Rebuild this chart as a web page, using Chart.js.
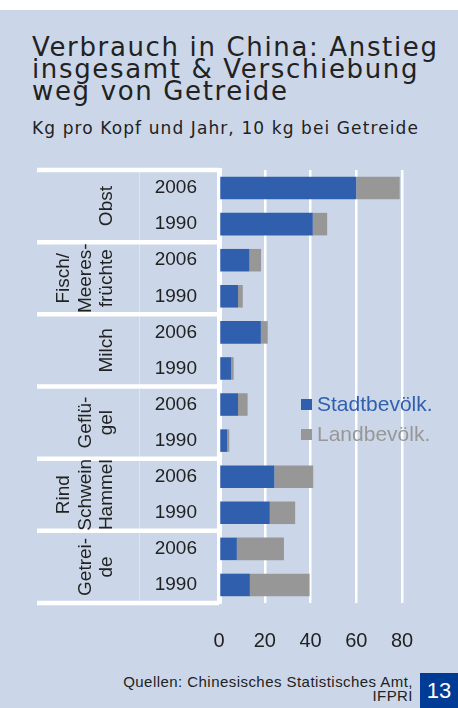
<!DOCTYPE html>
<html lang="de">
<head>
<meta charset="utf-8">
<title>Verbrauch in China</title>
<script src="https://cdn.jsdelivr.net/npm/chart.js@4"></script>
<style>
  html, body {
    margin: 0;
    padding: 0;
    background: #ffffff;
    width: 458px;
    height: 708px;
    overflow: hidden;
    font-family: "Liberation Sans", Arial, sans-serif;
  }
  #panel {
    position: absolute;
    left: 0;
    top: 10px;
    width: 458px;
    height: 698px;
    background: #cbd7e9;
  }
  #title {
    position: absolute;
    left: 32px;
    top: 36px;
    font-family: "DejaVu Sans", sans-serif;
    font-size: 26px;
    line-height: 22px;
    letter-spacing: 1.65px;
    color: #222222;
    white-space: nowrap;
  }
  #subtitle {
    position: absolute;
    left: 32px;
    top: 118px;
    font-family: "DejaVu Sans", sans-serif;
    font-size: 17px;
    line-height: 20px;
    letter-spacing: 1.1px;
    color: #222222;
    white-space: nowrap;
  }
  #chartBox {
    position: absolute;
    left: 0;
    top: 150px;
    width: 458px;
    height: 520px;
  }
  #legend {
    position: absolute;
    left: 301px;
    top: 389px;
    font-size: 21px;
    line-height: 30px;
  }
  #legend div {
    display: flex;
    align-items: center;
    white-space: nowrap;
  }
  #legend span.box {
    display: inline-block;
    width: 11px;
    height: 11px;
    margin-right: 5px;
  }
  #source {
    position: absolute;
    right: 45px;
    top: 675px;
    font-size: 15px;
    line-height: 14px;
    letter-spacing: 0.45px;
    text-align: right;
    color: #222222;
    white-space: nowrap;
  }
  #page {
    position: absolute;
    left: 420px;
    top: 673px;
    width: 38px;
    height: 35px;
    background: #003b95;
    color: #ffffff;
    font-size: 22px;
    line-height: 35px;
    text-align: center;
  }
</style>
</head>
<body>
<div id="panel"></div>
<div id="title">Verbrauch in China: Anstieg<br>insgesamt &amp; Verschiebung<br>weg von Getreide</div>
<div id="subtitle">Kg pro Kopf und Jahr, 10 kg bei Getreide</div>
<div id="chartBox"><canvas id="consumptionChart"></canvas></div>
<div id="legend"></div>
<div id="source">Quellen: Chinesisches Statistisches Amt,<br>IFPRI</div>
<div id="page">13</div>

<script>
// groups (top to bottom), each split into its printed lines
const groups = [
  ["Obst"],
  ["Fisch/", "Meeres-", "früchte"],
  ["Milch"],
  ["Geflü-", "gel"],
  ["Rind", "Schwein", "Hammel"],
  ["Getrei-", "de"],
];
const years = ["2006", "1990"];

// kg per head and year (grain in 10 kg), order: group x year
const urban = [60, 41, 13.3, 8.3, 18.3, 5.3, 8.3, 3.5, 24.2, 22.2, 7.8, 13.5];
const rural = [19, 6.3, 5.1, 2.1, 3, 1.1, 4.2, 1, 17, 11.1, 20.6, 26.1];

const xTicks = [0, 20, 40, 60, 80];

document.addEventListener("DOMContentLoaded", function () {
  const labels = [];
  groups.forEach((g) => years.forEach((y) => labels.push(g.join("") + " " + y)));

  const datasets = [
    { label: "Stadtbevölk.", data: urban, backgroundColor: "#3060ad", textColor: "#3060ad" },
    { label: "Landbevölk.", data: rural, backgroundColor: "#979797", textColor: "#979797" },
  ];

  // left table: white separators + rotated group names
  const groupTable = {
    id: "groupTable",
    afterDraw(chart) {
      const { ctx, chartArea } = chart;
      const yScale = chart.scales.y;
      const step = yScale.getPixelForValue(1) - yScale.getPixelForValue(0);
      ctx.save();

      // faint divider between group column and year column
      ctx.strokeStyle = "rgba(255,255,255,0.35)";
      ctx.lineWidth = 1;
      ctx.beginPath();
      ctx.moveTo(139.5, chartArea.top);
      ctx.lineTo(139.5, chartArea.bottom);
      ctx.stroke();

      ctx.strokeStyle = "#ffffff";
      ctx.lineWidth = 4.5;
      for (let k = 0; k <= groups.length; k++) {
        const py = yScale.getPixelForValue(k * years.length) - step / 2;
        ctx.beginPath();
        ctx.moveTo(37, py);
        ctx.lineTo(chartArea.left, py);
        ctx.stroke();
      }

      ctx.font = "19px 'Liberation Sans', Arial, sans-serif";
      ctx.fillStyle = "#222222";
      ctx.textAlign = "center";
      ctx.textBaseline = "middle";
      groups.forEach((lines, i) => {
        const first = yScale.getPixelForValue(i * years.length);
        const last = yScale.getPixelForValue(i * years.length + years.length - 1);
        ctx.save();
        ctx.translate(107, (first + last) / 2);
        ctx.rotate(-Math.PI / 2);
        lines.forEach((t, j) => ctx.fillText(t, 0, (j - (lines.length - 1)) * 21.5));
        ctx.restore();
      });
      ctx.restore();
    },
  };

  const ctxConsumption = document
    .getElementById("consumptionChart")
    .getContext("2d");
  const consumptionChart = new Chart(ctxConsumption, {
    type: "bar",
    data: { labels: labels, datasets: datasets },
    options: {
      indexAxis: "y",
      responsive: true,
      maintainAspectRatio: false,
      animation: false,
      barPercentage: 0.625,
      categoryPercentage: 1.0,
      layout: { autoPadding: false, padding: { top: 20, right: 56, left: 0, bottom: 0 } },
      plugins: {
        legend: { display: false },
        tooltip: { enabled: false },
      },
      scales: {
        x: {
          stacked: true,
          min: 0,
          max: 80,
          afterBuildTicks: (scale) => {
            scale.ticks = xTicks.map((v) => ({ value: v }));
          },
          afterFit: (scale) => {
            scale.height = 67; // chart bottom at page y 603
            scale.paddingLeft = 0;
            scale.paddingRight = 0;
            scale.paddingTop = 0;
            scale.paddingBottom = 0;
          },
          grid: { color: "#ffffff", lineWidth: 2.5, drawTicks: false },
          border: { display: false },
          ticks: {
            color: "#222222",
            padding: 26,
            font: { family: "'Liberation Sans', Arial, sans-serif", size: 20 },
          },
        },
        y: {
          stacked: true,
          afterFit: (scale) => {
            scale.width = 219; // chart left edge at 219
            scale.paddingTop = 0;
            scale.paddingBottom = 0;
            scale.paddingLeft = 0;
            scale.paddingRight = 0;
          },
          grid: { display: false, drawTicks: false },
          border: { display: true, color: "#ffffff", width: 5 },
          ticks: {
            color: "#222222",
            padding: 22,
            font: { family: "'Liberation Sans', Arial, sans-serif", size: 19 },
            callback: function (value, index) {
              return years[index % years.length];
            },
          },
        },
      },
    },
    plugins: [groupTable],
  });

  // legend inside the plot
  const legend = document.getElementById("legend");
  datasets.forEach((ds) => {
    const row = document.createElement("div");
    row.innerHTML =
      '<span class="box" style="background:' + ds.backgroundColor + '"></span>' +
      '<span style="color:' + ds.textColor + '">' + ds.label + "</span>";
    legend.appendChild(row);
  });
});
</script>
</body>
</html>
